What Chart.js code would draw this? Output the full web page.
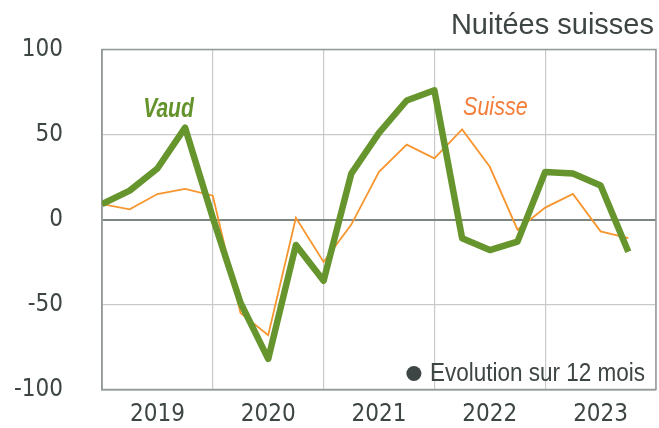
<!DOCTYPE html>
<html>
<head>
<meta charset="utf-8">
<script src="https://cdn.jsdelivr.net/npm/chart.js@4"></script>
<style>
  html, body { margin: 0; padding: 0; background: #fff; }
  #wrap { width: 659px; height: 428px; }
</style>
</head>
<body>
<div id="wrap"><canvas id="chart"></canvas></div>
<script>
// quarterly data, 2019 Q1 .. 2023 Q4 (20 points)
const years = ['2019', '2020', '2021', '2022', '2023'];
const vaud = [9, 17, 30, 54, 1, -49, -82, -15, -36, 27, 51, 70, 76, -11, -18, -13, 28, 27, 20, -19];
const suisse = [9, 6, 15, 18, 14, -55, -68, 1, -25, -3, 28, 44, 36, 53, 31, -6, 7, 15, -7, -11];
const yTicks = [-100, -50, 0, 50, 100];

const narrow = "'DejaVu Sans Condensed', 'Liberation Sans', sans-serif";
const sans = "'Liberation Sans', Arial, sans-serif";
const textColor = '#3d4644';
const frameColor = '#959b98';

// condensed text: regular face squeezed horizontally
function squeezed(ctx, txt, x, y, sx, align) {
  const w = ctx.measureText(txt).width * sx;
  let left = x;
  if (align === 'center') left = x - w / 2;
  if (align === 'right') left = x - w;
  ctx.save();
  ctx.translate(left, y);
  ctx.scale(sx, 1);
  ctx.textAlign = 'left';
  ctx.fillText(txt, 0, 0);
  ctx.restore();
  return w;
}

// frame, title, series names and the small note
const decorations = {
  id: 'decorations',
  beforeDatasetsDraw(chart) {
    const { ctx, chartArea: a } = chart;
    ctx.save();
    ctx.strokeStyle = frameColor;
    ctx.lineWidth = 1.5;
    ctx.strokeRect(a.left, a.top, a.right - a.left, a.bottom - a.top);
    ctx.restore();
  },
  afterDraw(chart) {
    const { ctx, chartArea: a, scales } = chart;
    const x = scales.x, y = scales.y;
    ctx.save();
    ctx.textBaseline = 'alphabetic';

    ctx.font = '29px ' + sans;
    ctx.fillStyle = textColor;
    ctx.textAlign = 'right';
    ctx.fillText('Nuitées suisses', a.right - 2, 34);

    ctx.font = 'italic bold 27px ' + sans;
    ctx.fillStyle = '#64932c';
    squeezed(ctx, 'Vaud', x.getPixelForValue(2.4), y.getPixelForValue(60.5), 0.78, 'center');
    ctx.font = 'italic 25px ' + sans;
    ctx.fillStyle = '#f47d3a';
    squeezed(ctx, 'Suisse', x.getPixelForValue(14.2), y.getPixelForValue(61.5), 0.86, 'center');

    // note
    ctx.font = '25px ' + sans;
    ctx.fillStyle = textColor;
    const tx = a.right - 11, ty = a.bottom - 9;
    const w = squeezed(ctx, 'Evolution sur 12 mois', tx, ty, 0.9, 'right');
    ctx.beginPath();
    ctx.arc(tx - w - 16, ty - 7, 7.5, 0, Math.PI * 2);
    ctx.fill();
    ctx.restore();
  }
};

new Chart(document.getElementById('chart'), {
  type: 'line',
  data: {
    datasets: [
      {
        label: 'Vaud',
        data: vaud.map((v, i) => ({ x: i, y: v })),
        borderColor: '#66952e',
        borderWidth: 6.5,
        pointRadius: 0,
        tension: 0,
        borderJoinStyle: 'round'
      },
      {
        label: 'Suisse',
        data: suisse.map((v, i) => ({ x: i, y: v })),
        borderColor: '#f7952e',
        borderWidth: 1.8,
        pointRadius: 0,
        tension: 0
      }
    ]
  },
  options: {
    responsive: true,
    maintainAspectRatio: false,
    animation: false,
    layout: { padding: { top: 49.5, right: 3, left: 0, bottom: 0 } },
    scales: {
      x: {
        type: 'linear',
        min: 0,
        max: 20,
        afterFit: (axis) => {
          axis.height = 38.5;
          axis.paddingLeft = 0;
          axis.paddingRight = 0;
        },
        ticks: {
          stepSize: 2,
          autoSkip: false,
          maxRotation: 0,
          padding: 11,
          color: textColor,
          font: { family: narrow, size: 24 },
          callback: (v) => (v % 4 === 2 ? years[(v - 2) / 4] : '')
        },
        grid: {
          drawTicks: false,
          color: (c) => (c.tick && c.tick.value % 4 === 0 ? '#c8cac9' : 'rgba(0,0,0,0)'),
          lineWidth: 1.2
        },
        border: { color: frameColor, width: 1.5 }
      },
      y: {
        min: -100,
        max: 100,
        afterFit: (axis) => {
          axis.width = 102;
          axis.paddingTop = 0;
          axis.paddingBottom = 0;
        },
        afterBuildTicks: (axis) => { axis.ticks = yTicks.map((v) => ({ value: v })); },
        ticks: {
          padding: 39,
          color: textColor,
          font: { family: narrow, size: 24 }
        },
        grid: {
          drawTicks: false,
          color: (c) => (c.tick && c.tick.value === 0 ? '#7e8682' : '#c8cac9'),
          lineWidth: (c) => (c.tick && c.tick.value === 0 ? 2 : 1.2)
        },
        border: { color: frameColor, width: 1.5 }
      }
    },
    plugins: {
      legend: { display: false },
      tooltip: { enabled: false }
    }
  },
  plugins: [decorations]
});
</script>
</body>
</html>
